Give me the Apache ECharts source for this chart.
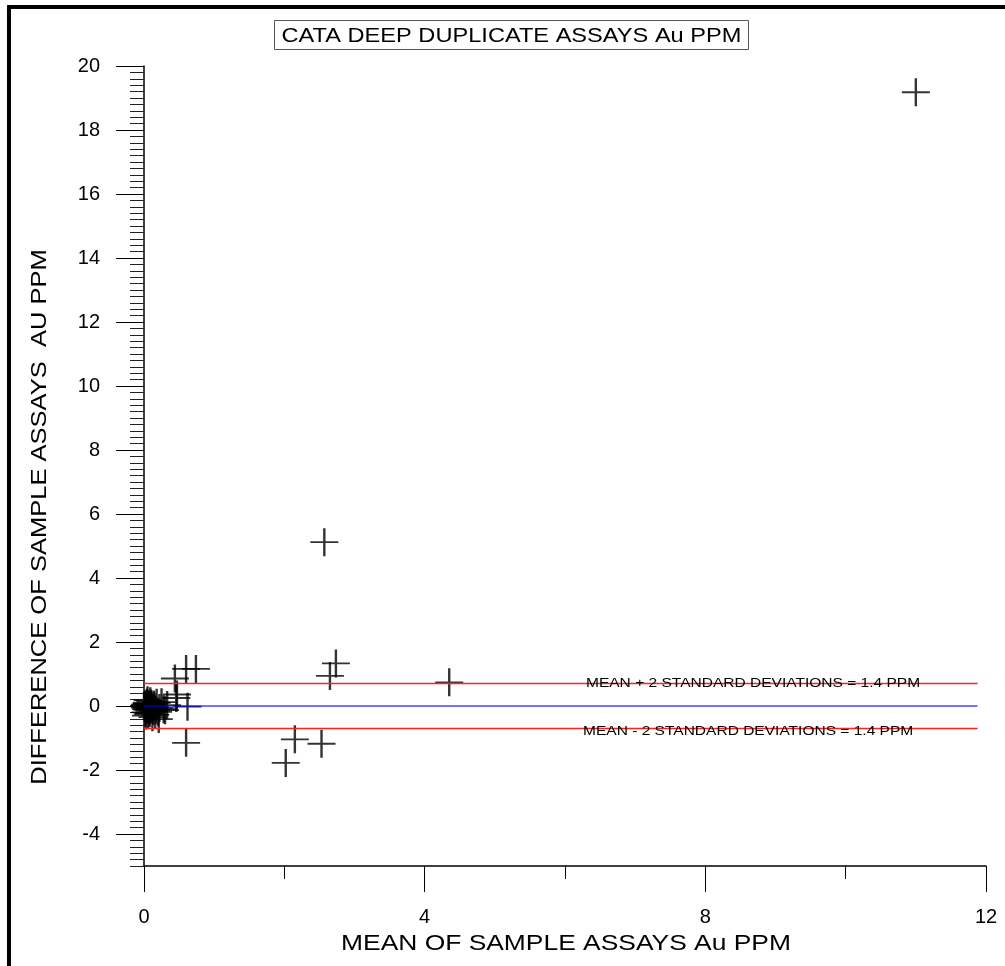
<!DOCTYPE html>
<html>
<head>
<meta charset="utf-8">
<title>CATA DEEP DUPLICATE ASSAYS</title>
<script src="https://cdn.jsdelivr.net/npm/echarts@6/dist/echarts.min.js"></script>
<style>
  html, body { margin: 0; padding: 0; background: #fff; }
  #chart1 { width: 1005px; height: 966px; }
</style>
</head>
<body>
<div id="chart1"></div>
<script>
// mean of the two assays (x) and their difference (y), Au ppm
let meanVals = [
  11.0, 2.57, 2.735, 2.65, 4.35, 2.15, 2.53, 2.02,
  0.74, 0.60, 0.44, 0.60, 0.47, 0.62, 0.46, 0.21,
  0.00, 0.01, 0.01, 0.02, 0.02, 0.03, 0.03, 0.04, 0.04, 0.05,
  0.05, 0.06, 0.06, 0.07, 0.07, 0.08, 0.08, 0.09, 0.10, 0.10,
  0.11, 0.12, 0.13, 0.14, 0.15, 0.17, 0.18, 0.20, 0.22, 0.25,
  0.28, 0.30, 0.33, 0.02, 0.04, 0.06, 0.09, 0.03, 0.05, 0.08,
  0.12, 0.16
]
let diffVals = [
  19.18, 5.12, 1.33, 0.94, 0.74, -1.04, -1.18, -1.78,
  1.16, 1.16, 0.86, -1.15, 0.36, -0.02, 0.25, -0.41,
  0.00, 0.02, -0.03, 0.05, -0.06, 0.01, -0.10, 0.07, -0.02, 0.03,
  -0.12, -0.05, 0.06, 0.00, -0.08, 0.04, -0.15, -0.03, 0.08, -0.10,
  0.02, -0.06, -0.16, 0.05, -0.02, -0.12, 0.10, -0.18, -0.06, 0.12,
  -0.10, -0.13, 0.03, -0.20, 0.10, -0.25, 0.15, -0.30, 0.18, -0.22,
  -0.35, -0.28
]
let yTickLabels = [-4, -2, 0, 2, 4, 6, 8, 10, 12, 14, 16, 18, 20]
let xTickLabels = [0, 4, 8, 12]
let refValues = [0.7, 0, -0.7]
let refColors = ['#ff2020', 'rgba(0,0,255,0.55)', '#ff2020']
let refEndX = 11.88
let refTexts = [
  'MEAN + 2 STANDARD DEVIATIONS = 1.4 PPM',
  'MEAN - 2 STANDARD DEVIATIONS = 1.4 PPM'
]

let font = 'Liberation Sans, Arial, sans-serif'
let black = '#000'

let points = meanVals.map(function (m, i) { return [m, diffVals[i]] })

let refSeries = refValues.map(function (v, i) {
  return {
    type: 'line',
    data: [[0, v], [refEndX, v]],
    symbol: 'none',
    silent: true,
    z: 5,
    lineStyle: { color: refColors[i], width: i === 1 ? 2 : 1.5 }
  }
})

let charts = echarts.init(document.getElementById('chart1'))
let option = {
  animation: false,
  backgroundColor: '#fff',
  grid: { left: 144, right: 19, top: 66, bottom: 100 },
  xAxis: {
    type: 'value',
    min: 0,
    max: 12,
    interval: 4,
    axisLine: { show: true, onZero: false, lineStyle: { color: black, width: 1.5 } },
    axisTick: { show: true, inside: false, length: 26, lineStyle: { color: black, width: 1 } },
    minorTick: { show: true, splitNumber: 2, length: 13, lineStyle: { color: black, width: 1 } },
    axisLabel: { customValues: xTickLabels, margin: 41, fontSize: 20, color: black, fontFamily: font },
    splitLine: { show: false }
  },
  yAxis: [
    {
      type: 'value',
      min: -5,
      max: 20,
      interval: 1,
      position: 'left',
      axisLine: { show: true, onZero: false, lineStyle: { color: black, width: 1.5 } },
      axisTick: { show: true, inside: false, length: 14, lineStyle: { color: '#222', width: 1 } },
      minorTick: { show: true, splitNumber: 5, length: 14, lineStyle: { color: '#222', width: 1 } },
      axisLabel: { show: false },
      splitLine: { show: false }
    },
    {
      type: 'value',
      min: -5,
      max: 20,
      interval: 1,
      position: 'left',
      axisLine: { show: false },
      axisTick: { show: true, inside: false, customValues: yTickLabels, length: 28, lineStyle: { color: black, width: 1 } },
      axisLabel: { customValues: yTickLabels, margin: 44, fontSize: 20, color: black, fontFamily: font },
      splitLine: { show: false }
    }
  ],
  series: [
    {
      type: 'scatter',
      data: points,
      symbol: 'path://M12.8,0h2.4v28h-2.4zM0,13.1h28v1.8h-28z',
      symbolSize: 28,
      itemStyle: { color: black },
      z: 2
    }
  ].concat(refSeries)
}
charts.setOption(option)

// text that is stretched wider than the installed fonts, plus the outer frame
let p1 = charts.convertToPixel({ xAxisIndex: 0, yAxisIndex: 0 }, [8.68, refValues[0]])
let p2 = charts.convertToPixel({ xAxisIndex: 0, yAxisIndex: 0 }, [8.61, refValues[2]])
let wide = 1.16
charts.setOption({
  graphic: [
    { type: 'rect', left: 7, top: 5, shape: { width: 998, height: 4 }, style: { fill: black } },
    { type: 'rect', left: 7, top: 5, shape: { width: 4, height: 961 }, style: { fill: black } },
    {
      type: 'rect', x: 274.5, y: 20.5, shape: { width: 474, height: 29 },
      style: { fill: '#fff', stroke: '#555', lineWidth: 1 }
    },
    {
      type: 'text', x: 511.5, y: 36, scaleX: 1.18,
      style: { text: 'CATA DEEP DUPLICATE ASSAYS Au PPM', font: '20px ' + font, fill: black, align: 'center', verticalAlign: 'middle' }
    },
    {
      type: 'text', x: 40, y: 517, rotation: Math.PI / 2, scaleX: wide,
      style: { text: 'DIFFERENCE OF SAMPLE ASSAYS  AU PPM', font: '22px ' + font, fill: black, align: 'center', verticalAlign: 'middle' }
    },
    {
      type: 'text', x: 566, y: 944, scaleX: 1.2,
      style: { text: 'MEAN OF SAMPLE ASSAYS Au PPM', font: '22px ' + font, fill: black, align: 'center', verticalAlign: 'middle' }
    },
    {
      type: 'text', x: p1[0], y: p1[1], scaleX: 1.15, z: 10,
      style: { text: refTexts[0], font: '13.5px ' + font, fill: black, align: 'center', verticalAlign: 'middle' }
    },
    {
      type: 'text', x: p2[0], y: p2[1] + 3, scaleX: 1.15, z: 10,
      style: { text: refTexts[1], font: '13.5px ' + font, fill: black, align: 'center', verticalAlign: 'middle' }
    }
  ]
})
window.addEventListener('resize', function () {
  charts.resize()
})
</script>
</body>
</html>
